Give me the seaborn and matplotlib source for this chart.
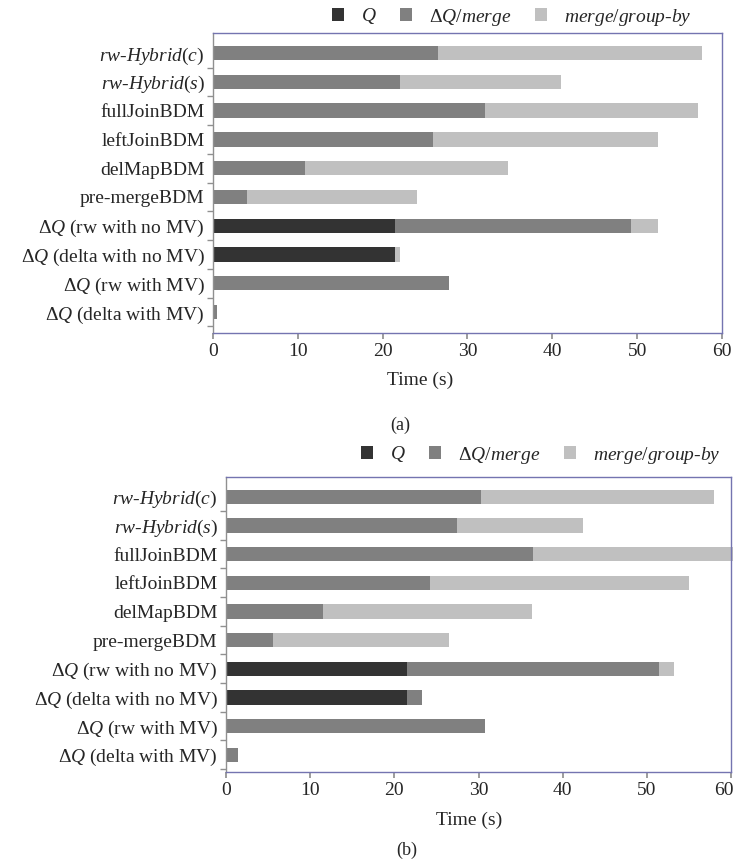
import matplotlib
matplotlib.use("Agg")
import matplotlib.pyplot as plt
import matplotlib.transforms as mtransforms
import numpy as np
import pandas as pd
import seaborn as sns
from matplotlib.patches import Patch

# ---------------- data ----------------
categories = [
    r"$rw$-$Hybrid$($c$)",
    r"$rw$-$Hybrid$($s$)",
    "fullJoinBDM",
    "leftJoinBDM",
    "delMapBDM",
    "pre-mergeBDM",
    r"Δ$Q$ (rw with no MV)",
    r"Δ$Q$ (delta with no MV)",
    r"Δ$Q$ (rw with MV)",
    r"Δ$Q$ (delta with MV)",
]
series_names = [r"$Q$", r"Δ$Q$/$merge$", r"$merge$/$group$-$by$"]

# panel (a)
a_q = [0, 0, 0, 0, 0, 0, 21.5, 21.5, 0, 0]
a_dq = [26.5, 22.1, 32.1, 25.9, 10.9, 4.0, 27.8, 0, 27.8, 0.5]
a_mg = [31.1, 18.9, 25.1, 26.5, 23.9, 20.1, 3.1, 0.5, 0, 0]

# panel (b)
b_q = [0, 0, 0, 0, 0, 0, 21.5, 21.5, 0, 0]
b_dq = [30.3, 27.4, 36.5, 24.2, 11.5, 5.6, 30.0, 1.8, 30.8, 1.4]
b_mg = [27.7, 15.0, 26.5, 30.8, 24.9, 20.9, 1.7, 0, 0, 0]

xticks = [0, 10, 20, 30, 40, 50, 60]
xlabel = "Time (s)"
panel_labels = ["(a)", "(b)"]

# ---------------- style ----------------
sns.set_theme(style="white")
plt.rcParams["font.family"] = ["Liberation Serif", "DejaVu Serif"]
plt.rcParams["mathtext.fontset"] = "custom"
plt.rcParams["mathtext.rm"] = "Liberation Serif"
plt.rcParams["mathtext.it"] = "Liberation Serif:italic"
plt.rcParams["mathtext.bf"] = "Liberation Serif:bold"

C_DARK = "#333333"
C_MED = "#808080"
C_LIGHT = "#c0c0c0"
FRAME = "#7474b0"
FS = 14

fig = plt.figure(figsize=(7.33, 8.59), dpi=100)
W, H = 733, 859


def ax_rect(left, right, top, bottom):
    return [left / W, 1 - bottom / H, (right - left) / W, (bottom - top) / H]


def draw_panel(ax, q, dq, mg, ylim, shift_last=0):
    df = pd.DataFrame({"cat": categories, "q": q, "dq": dq, "mg": mg})
    df["lvl2"] = df["q"] + df["dq"]
    df["lvl3"] = df["lvl2"] + df["mg"]
    for col, colr in [("lvl3", C_LIGHT), ("lvl2", C_MED), ("q", C_DARK)]:
        sns.barplot(data=df, x=col, y="cat", orient="h", color=colr,
                    width=0.5, linewidth=0, saturation=1, ax=ax)
    for p in ax.patches:
        p.set_clip_on(False)
    ax.set_xlim(0, 60)
    ax.set_ylim(*ylim)
    ax.set_xticks(xticks)
    ax.set_xticklabels([str(t) for t in xticks], fontsize=FS)
    ax.set_yticks(range(len(categories)))
    ax.set_yticklabels(categories, fontsize=FS)
    ax.set_xlabel("")
    ax.set_ylabel("")
    ax.set_yticks(np.arange(len(categories)) + 0.5, minor=True)
    ax.tick_params(axis="y", which="major", length=0, pad=6)
    ax.tick_params(axis="y", which="minor", length=4, color="#909090", left=True)
    ax.tick_params(axis="x", which="major", length=4, color="#909090",
                   bottom=True, pad=3)
    if shift_last:
        lab = ax.get_xticklabels()[-1]
        lab.set_transform(lab.get_transform() + mtransforms.ScaledTranslation(
            -shift_last / 100.0, 0, fig.dpi_scale_trans))
    for s in ["top", "right", "bottom"]:
        ax.spines[s].set_color(FRAME)
        ax.spines[s].set_linewidth(1.0)
    ax.spines["left"].set_color("#909090")
    ax.spines["left"].set_linewidth(1.0)
    ax.grid(False)


ax_a = fig.add_axes(ax_rect(213, 722, 33, 333))
draw_panel(ax_a, a_q, a_dq, a_mg, (9.73, -0.70))
ax_b = fig.add_axes(ax_rect(226, 731, 477, 772))
draw_panel(ax_b, b_q, b_dq, b_mg, (9.60, -0.69), shift_last=7)

handles = [Patch(facecolor=c, edgecolor="none", label=n)
           for c, n in zip([C_DARK, C_MED, C_LIGHT], series_names)]
for ax, cx, cy in [(ax_a, 512, 17), (ax_b, 541, 455)]:
    ax.legend(handles=handles, loc="center", ncol=3, frameon=False,
              bbox_to_anchor=(cx / W, 1 - cy / H), bbox_transform=fig.transFigure,
              fontsize=FS, handlelength=0.6, handleheight=0.6,
              handletextpad=0.9, columnspacing=1.2, borderaxespad=0)

fig.text(420 / W, 1 - 380 / H, xlabel, ha="center", va="center", fontsize=FS)
fig.text(469 / W, 1 - 820 / H, xlabel, ha="center", va="center", fontsize=FS)
fig.text(400 / W, 1 - 425 / H, panel_labels[0], ha="center", va="center", fontsize=FS - 1)
fig.text(407 / W, 1 - 850 / H, panel_labels[1], ha="center", va="center", fontsize=FS - 1)

fig.savefig("out.png", dpi=100)
